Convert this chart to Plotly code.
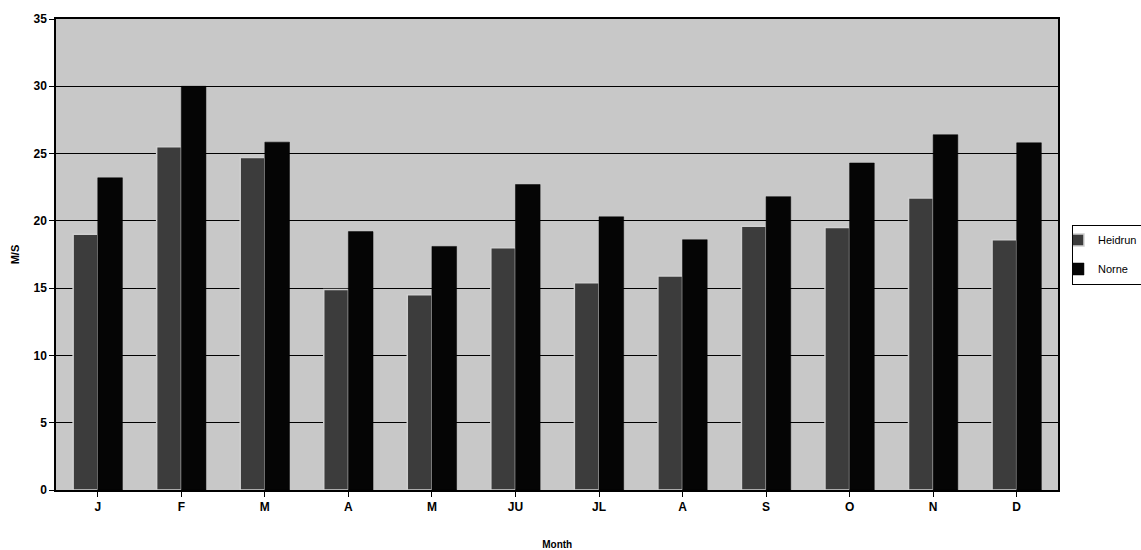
import plotly.graph_objects as go

months = ["J", "F", "M", "A", "M", "JU", "JL", "A", "S", "O", "N", "D"]
heidrun = [19.0, 25.5, 24.7, 14.9, 14.5, 18.0, 15.4, 15.9, 19.6, 19.5, 21.7, 18.6]
norne = [23.2, 30.0, 25.85, 19.2, 18.1, 22.7, 20.3, 18.6, 21.8, 24.3, 26.4, 25.8]
yticks = [0, 5, 10, 15, 20, 25, 30, 35]

x = list(range(len(months)))

fig = go.Figure()
fig.add_trace(go.Bar(
    x=x, y=heidrun, name="Heidrun", legendgroup="h",
    marker=dict(color="#3c3c3c", line=dict(color="#d0d0d0", width=1.5)),
))
fig.add_trace(go.Bar(
    x=x, y=norne, name="Norne", legendgroup="n",
    marker=dict(color="#050505", line=dict(color="#000000", width=0.5)),
))

font_family = "Liberation Sans, Arial, sans-serif"

fig.update_layout(
    width=1141, height=550,
    margin=dict(l=56, r=81, t=17, b=60),
    paper_bgcolor="white",
    plot_bgcolor="#c8c8c8",
    barmode="group",
    bargap=0.41,
    bargroupgap=0,
    font=dict(family=font_family, color="black", size=11),
    legend=dict(
        xref="container", yref="paper",
        x=0.9395, y=0.50, xanchor="left", yanchor="middle",
        bordercolor="black", borderwidth=1, bgcolor="white",
        font=dict(size=11, family=font_family),
        traceorder="grouped", tracegroupgap=10,
        itemwidth=30, indentation=-15,
    ),
    xaxis=dict(
        tickmode="array", tickvals=x, ticktext=["<b>%s</b>" % m for m in months],
        range=[-0.5, len(months) - 0.5],
        showline=True, linecolor="black", linewidth=1.5, mirror=True,
        ticks="outside", tickson="boundaries", ticklen=5, tickcolor="black",
        showgrid=False, automargin=False,
        title=dict(text="<b>Month</b>", font=dict(size=10), standoff=30),
        tickfont=dict(size=12),
    ),
    yaxis=dict(
        range=[0, 35], tickmode="array", tickvals=yticks,
        ticktext=["<b>%d</b>" % v for v in yticks],
        showline=True, linecolor="black", linewidth=1.5, mirror=True,
        ticks="outside", ticklen=5, tickcolor="black",
        showgrid=True, gridcolor="black", gridwidth=1,
        zeroline=False,
        title=dict(text="<b>M/S</b>", font=dict(size=11), standoff=12),
        tickfont=dict(size=12),
    ),
)

fig.write_html("out.html")
